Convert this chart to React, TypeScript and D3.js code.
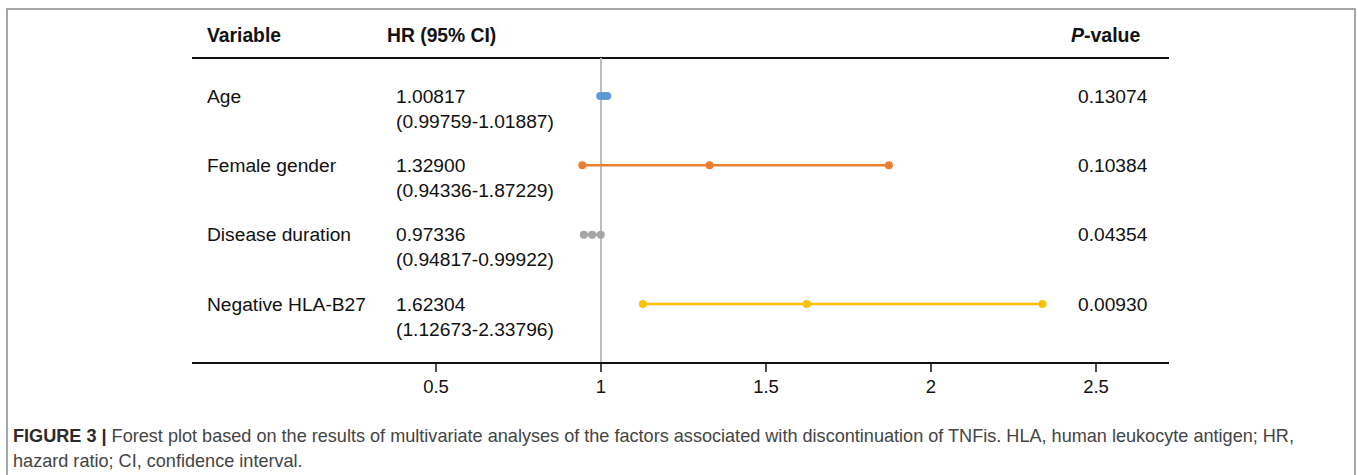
import React from "react";
import * as d3 from "d3";

const variables = ["Age", "Female gender", "Disease duration", "Negative HLA-B27"];
const hr = [1.00817, 1.329, 0.97336, 1.62304];
const ciLow = [0.99759, 0.94336, 0.94817, 1.12673];
const ciHigh = [1.01887, 1.87229, 0.99922, 2.33796];
const hrText = ["1.00817", "1.32900", "0.97336", "1.62304"];
const ciText = ["(0.99759-1.01887)", "(0.94336-1.87229)", "(0.94817-0.99922)", "(1.12673-2.33796)"];
const pValues = ["0.13074", "0.10384", "0.04354", "0.00930"];
const colors = ["#5B9BD5", "#ED7D31", "#A5A5A5", "#FFC000"];
const xTicks = [0.5, 1, 1.5, 2, 2.5];
const captionLabel = "FIGURE 3 |";
const captionLine1Rest =
  " Forest plot based on the results of multivariate analyses of the factors associated with discontinuation of TNFis. HLA, human leukocyte antigen; HR,";
const captionLine2 = "hazard ratio; CI, confidence interval.";

const W = 1358;
const H = 475;
const FONT = "'Liberation Sans', Arial, Helvetica, sans-serif";

export default function App() {
  const x = d3.scaleLinear().domain([-0.2394, 2.7212]).range([192, 1169]);
  const y = d3.scalePoint<string>().domain(variables).range([96, 304]);
  const axisY = 363;
  const headerY = 58;
  const fs = 19.2;

  return (
    <svg
      width={W}
      height={H}
      style={{ position: "fixed", left: 0, top: 0, background: "#fff" }}
      fontFamily={FONT}
    >
      <rect x={0} y={0} width={W} height={H} fill="#fff" />
      <rect x={7} y={9} width={1348} height={500} fill="none" stroke="#8a8a8a" strokeWidth={1.5} />

      {/* header */}
      <text x={207} y={42} fontSize={19.3} fontWeight="bold" fill="#111">Variable</text>
      <text x={387} y={42} fontSize={19.3} fontWeight="bold" fill="#111">HR (95% CI)</text>
      <text x={1071} y={42} fontSize={19.5} fontWeight="bold" fill="#111">
        <tspan fontStyle="italic">P</tspan>-value
      </text>
      <line x1={x.range()[0]} x2={x.range()[1]} y1={headerY} y2={headerY} stroke="#111" strokeWidth={2} />

      {/* reference line */}
      <line x1={x(1)} x2={x(1)} y1={headerY} y2={axisY} stroke="#bdbdbd" strokeWidth={2} />

      {/* rows */}
      {variables.map((v, i) => {
        const yy = y(v)!;
        return (
          <g key={v}>
            <text x={207} y={yy + 6.5} fontSize={fs} fill="#111">{v}</text>
            <text x={396} y={yy + 6.5} fontSize={fs} fill="#111">{hrText[i]}</text>
            <text x={396} y={yy + 31.5} fontSize={fs} fill="#111">{ciText[i]}</text>
            <text x={1078} y={yy + 6.5} fontSize={fs} fill="#111">{pValues[i]}</text>
            <line x1={x(ciLow[i])} x2={x(ciHigh[i])} y1={yy} y2={yy} stroke={colors[i]} strokeWidth={2.5} />
            {[ciLow[i], hr[i], ciHigh[i]].map((val, j) => (
              <circle key={j} cx={x(val)} cy={yy} r={4} fill={colors[i]} />
            ))}
          </g>
        );
      })}

      {/* axis */}
      <line x1={x.range()[0]} x2={x.range()[1]} y1={axisY} y2={axisY} stroke="#111" strokeWidth={2} />
      {xTicks.map((t) => (
        <g key={t}>
          <line x1={x(t)} x2={x(t)} y1={axisY} y2={axisY + 9} stroke="#111" strokeWidth={1.5} />
          <text x={x(t)} y={392.5} fontSize={18.5} textAnchor="middle" fill="#111">{t}</text>
        </g>
      ))}

      {/* caption */}
      <text x={13} y={442} fontSize={18.1} fill="#444">
        <tspan fontWeight="bold" fill="#2a2a2a">{captionLabel}</tspan>
        <tspan>{captionLine1Rest}</tspan>
      </text>
      <text x={13} y={467} fontSize={18.1} fill="#444">{captionLine2}</text>
    </svg>
  );
}
